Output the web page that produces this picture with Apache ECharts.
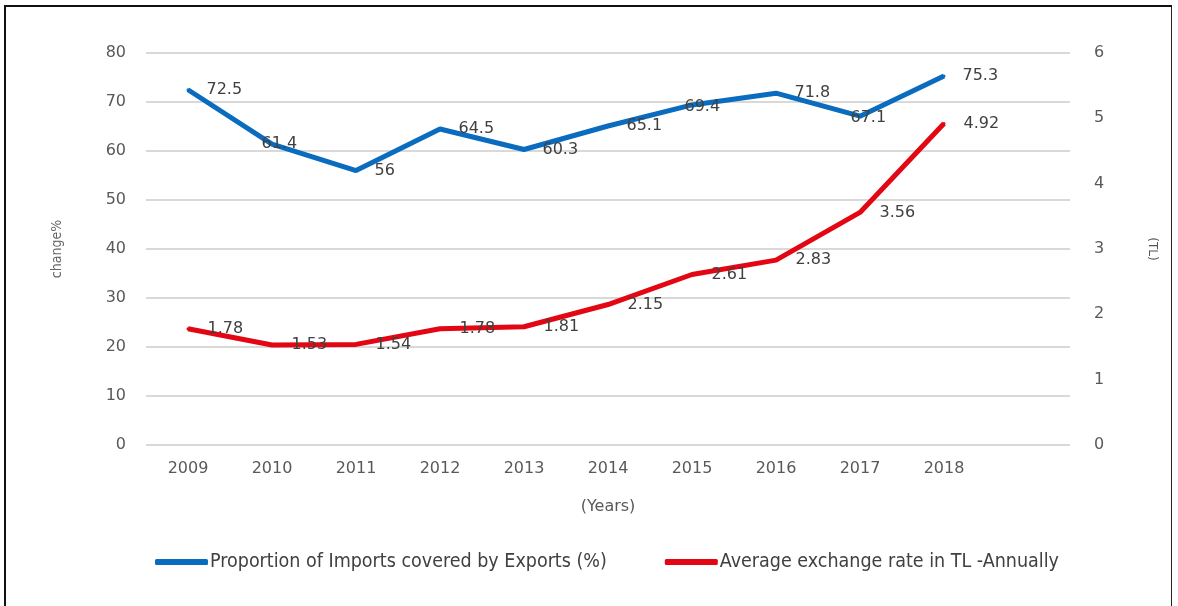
<!DOCTYPE html>
<html>
<head>
<meta charset="utf-8">
<script src="https://cdn.jsdelivr.net/npm/echarts@6/dist/echarts.min.js"></script>
<style>
  html, body { margin: 0; padding: 0; background: #fff; }
  #frame { position: absolute; left: 4px; top: 5px; width: 1168px; height: 601px;
           border-top: 2px solid #111; border-left: 2px solid #111; border-right: 1px solid #222; box-sizing: border-box; }
  #chart { position: absolute; left: 0; top: 0; width: 1178px; height: 606px; }
</style>
</head>
<body>
<div id="frame"></div>
<div id="chart"></div>
<script>
// Years on the category axis; the trailing blank slot leaves room on the right like the original workbook chart
const years = ['2009', '2010', '2011', '2012', '2013', '2014', '2015', '2016', '2017', '2018', ''];
// Proportion of imports covered by exports (%)
const coverage = [72.5, 61.4, 56, 64.5, 60.3, 65.1, 69.4, 71.8, 67.1, 75.3];
// Average exchange rate in TL, annual
const exchangeRate = [1.78, 1.53, 1.54, 1.78, 1.81, 2.15, 2.61, 2.83, 3.56, 4.92];

const leftTicks = { min: 0, max: 80, interval: 10 };
const rightTicks = { min: 0, max: 6, interval: 1 };

const BLUE = '#0a6cbf';
const RED = '#e30613';

const tickFont = { color: '#595959', fontSize: 16, fontFamily: 'DejaVu Sans' };
const labelFont = { color: '#404040', fontSize: 16, fontFamily: 'DejaVu Sans' };
// labels that sit over the line instead of to its right: [distance, vertical offset]
const coverageLabelShift = { 1: [-12, 0], 6: [-9, 2], 8: [-11, 2] };

function withLabels(values, shifts) {
  return values.map((v, i) => {
    const item = { value: v };
    if (shifts[i]) item.label = { distance: shifts[i][0], offset: [0, shifts[i][1]] };
    return item;
  });
}

const chart = echarts.init(document.getElementById('chart'), null, { renderer: 'canvas' });
chart.setOption({
  backgroundColor: 'transparent',
  animation: false,
  grid: { left: 146, right: 108, top: 53, bottom: 161, containLabel: false },
  legend: {
    top: 547, left: 150,
    itemWidth: 53, itemHeight: 6, itemGap: 58,
    icon: 'roundRect',
    textStyle: { color: '#404040', fontSize: 19.5, fontFamily: 'DejaVu Sans Condensed', padding: [0, 0, 0, -3] },
    data: [
      { name: 'Proportion of Imports covered by Exports (%)', itemStyle: { color: BLUE } },
      { name: 'Average exchange rate in TL -Annually', itemStyle: { color: RED } }
    ]
  },
  xAxis: {
    type: 'category',
    data: years,
    boundaryGap: true,
    axisLine: { show: false },
    axisTick: { show: false },
    axisLabel: { ...tickFont, margin: 16 },
    name: '(Years)',
    nameLocation: 'middle',
    nameGap: 54,
    nameTextStyle: { ...tickFont }
  },
  yAxis: [
    {
      type: 'value', ...leftTicks,
      axisLine: { show: false }, axisTick: { show: false },
      splitLine: { lineStyle: { color: '#d9d9d9', width: 2 } },
      axisLabel: { ...tickFont, margin: 20 },
      name: 'change%', nameLocation: 'middle', nameRotate: 90, nameGap: 82,
      nameTextStyle: { color: '#666', fontSize: 14, fontFamily: 'DejaVu Sans Condensed' }
    },
    {
      type: 'value', ...rightTicks,
      axisLine: { show: false }, axisTick: { show: false },
      splitLine: { show: false },
      axisLabel: { ...tickFont, margin: 24 },
      name: '(TL)', nameLocation: 'middle', nameRotate: -90, nameGap: 76,
      nameTextStyle: { color: '#555', fontSize: 12, fontFamily: 'DejaVu Sans' }
    }
  ],
  series: [
    {
      name: 'Proportion of Imports covered by Exports (%)',
      type: 'line', yAxisIndex: 0,
      data: withLabels(coverage, coverageLabelShift),
      symbol: 'circle', symbolSize: 3, showSymbol: true,
      lineStyle: { color: BLUE, width: 5 },
      itemStyle: { color: BLUE },
      label: { show: true, position: 'right', distance: 17, ...labelFont }
    },
    {
      name: 'Average exchange rate in TL -Annually',
      type: 'line', yAxisIndex: 1,
      data: exchangeRate,
      symbol: 'circle', symbolSize: 3, showSymbol: true,
      lineStyle: { color: RED, width: 5 },
      itemStyle: { color: RED },
      label: { show: true, position: 'right', distance: 18, ...labelFont }
    }
  ]
});
</script>
</body>
</html>
